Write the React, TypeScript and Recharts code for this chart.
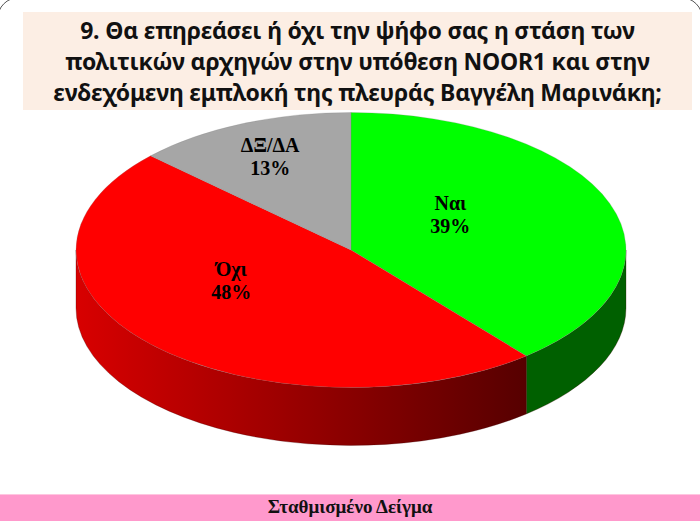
import React from "react";
import { PieChart, Pie, Cell } from "recharts";

const categories = ["Ναι", "Όχι", "ΔΞ/ΔΑ"];
const values = [39, 48, 13];
const titleLines = [
  "9. Θα επηρεάσει ή όχι την ψήφο σας η στάση των",
  "πολιτικών αρχηγών στην υπόθεση NOOR1 και στην",
  "ενδεχόμενη εμπλοκή της πλευράς Βαγγέλη Μαρινάκη;",
];
const footerText = "Σταθμισμένο Δείγμα";

const topColors = ["#00FF00", "#FF0000", "#A6A6A6"];
const sideColors = ["#006000", "url(#redSide)", "#6E6E6E"];
// label placement: radial fraction and angular shift (degrees) per slice
const labelPlace = [
  { frac: 0.44, shift: 15 },
  { frac: 0.49, shift: -16 },
  { frac: 0.74, shift: 0 },
];

const data = categories.map((name, i) => ({ name, value: values[i] }));

const TILT = 0.5;
const DEPTH = 58;
const RAD = Math.PI / 180;

function pt(cx: number, cy: number, rx: number, ry: number, deg: number, dy = 0) {
  return [cx + rx * Math.cos(deg * RAD), cy - ry * Math.sin(deg * RAD) + dy];
}

const Slice3D = (props: any) => {
  const { cx, cy, outerRadius, startAngle, endAngle, index } = props;
  const rx = outerRadius;
  const ry = outerRadius * TILT;
  const hi = Math.max(startAngle, endAngle);
  const lo = Math.min(startAngle, endAngle);
  const p1 = pt(cx, cy, rx, ry, hi);
  const p2 = pt(cx, cy, rx, ry, lo);
  const large = hi - lo > 180 ? 1 : 0;
  const top = `M${cx},${cy} L${p1[0]},${p1[1]} A${rx},${ry} 0 ${large} 1 ${p2[0]},${p2[1]} Z`;

  const sides: string[] = [];
  for (let k = -2; k <= 1; k++) {
    const a = Math.max(lo, -180 + 360 * k);
    const b = Math.min(hi, 360 * k);
    if (b - a > 0.01) {
      const q1 = pt(cx, cy, rx, ry, b);
      const q2 = pt(cx, cy, rx, ry, a);
      const q3 = pt(cx, cy, rx, ry, a, DEPTH);
      const q4 = pt(cx, cy, rx, ry, b, DEPTH);
      sides.push(
        `M${q1[0]},${q1[1]} A${rx},${ry} 0 0 1 ${q2[0]},${q2[1]} L${q3[0]},${q3[1]} A${rx},${ry} 0 0 0 ${q4[0]},${q4[1]} Z`
      );
    }
  }
  const gradEnd = pt(cx, cy, rx, ry, lo)[0];
  return (
    <g>
      <defs>
        <linearGradient
          id="redSide"
          gradientUnits="userSpaceOnUse"
          x1={cx - rx}
          y1={0}
          x2={Math.max(gradEnd, cx + rx * 0.64)}
          y2={0}
        >
          <stop offset="0%" stopColor="#D80000" />
          <stop offset="100%" stopColor="#560000" />
        </linearGradient>
      </defs>
      {sides.map((d, i) => (
        <path key={i} d={d} fill={sideColors[index]} stroke="#3a0000" strokeOpacity={0.35} strokeWidth={0.8} />
      ))}
      <path d={top} fill={topColors[index]} stroke="#7f7f7f" strokeOpacity={0.4} strokeWidth={0.6} />
    </g>
  );
};

const renderLabel = (props: any) => {
  const { cx, cy, midAngle, outerRadius, index } = props;
  const pl = labelPlace[index];
  const ang = midAngle + pl.shift;
  const [x, y] = pt(cx, cy, outerRadius * pl.frac, outerRadius * pl.frac * TILT, ang);
  return (
    <text
      x={x}
      textAnchor="middle"
      fontFamily="'Liberation Serif', 'Times New Roman', serif"
      fontWeight="bold"
      fontSize={20}
      fill="#000"
    >
      <tspan x={x} y={y - 5}>{categories[index]}</tspan>
      <tspan x={x} y={y + 18}>{values[index]}%</tspan>
    </text>
  );
};

export default function App() {
  return (
    <div style={{ position: "relative", width: 700, height: 521, background: "#fff", overflow: "hidden" }}>
      <style>{`body{margin:0}`}</style>
      <div
        style={{
          position: "absolute",
          left: -3,
          top: -3,
          width: 706,
          height: 540,
          border: "1.5px solid #555",
          borderRadius: 22,
          boxSizing: "border-box",
        }}
      />
      <div
        style={{
          position: "absolute",
          left: 23,
          top: 12,
          width: 669,
          height: 98,
          background: "#FCEEE4",
        }}
      />
      <div
        style={{
          position: "absolute",
          left: 23,
          top: 15,
          width: 669,
          textAlign: "center",
          fontFamily: "'Noto Sans', 'Open Sans', sans-serif",
          fontWeight: 700,
          fontSize: 23,
          lineHeight: "31px",
          color: "#111",
          letterSpacing: -0.2,
        }}
      >
        {titleLines.map((l, i) => (
          <div key={i}>{l}</div>
        ))}
      </div>
      <div style={{ position: "absolute", left: 0, top: 0 }}>
        <PieChart width={700} height={521} margin={{ top: 0, right: 0, bottom: 0, left: 0 }}>
          <Pie
            data={data}
            dataKey="value"
            nameKey="name"
            cx={351}
            cy={250}
            outerRadius={275}
            startAngle={90}
            endAngle={-270}
            isAnimationActive={false}
            shape={Slice3D}
            label={renderLabel}
            labelLine={false}
            stroke="none"
          >
            {data.map((d, i) => (
              <Cell key={d.name} fill={topColors[i]} />
            ))}
          </Pie>
        </PieChart>
      </div>
      <div
        style={{
          position: "absolute",
          left: 0,
          top: 494,
          width: 700,
          height: 27,
          background: "#FF99CC",
          borderTop: "1px solid #FFC6E0",
          boxSizing: "border-box",
          textAlign: "center",
          fontFamily: "'Liberation Serif', 'Times New Roman', serif",
          fontWeight: 700,
          fontSize: 19,
          lineHeight: "24px",
          color: "#111",
        }}
      >
        {footerText}
      </div>
    </div>
  );
}
